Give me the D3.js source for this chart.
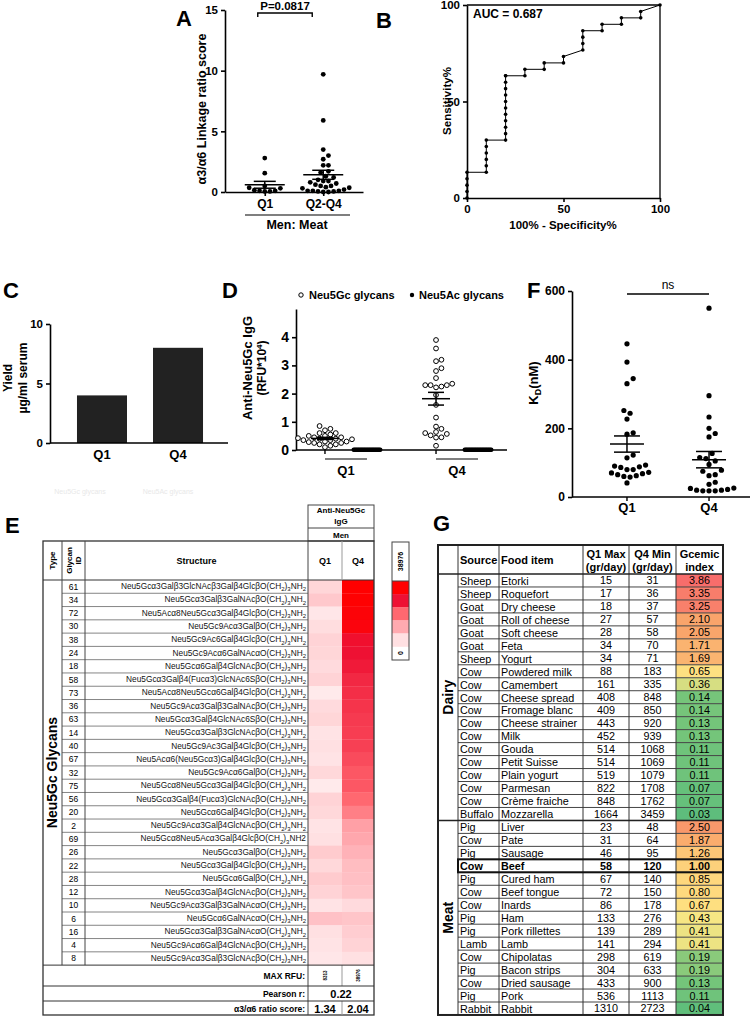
<!DOCTYPE html>
<html><head><meta charset="utf-8">
<script src="https://cdn.jsdelivr.net/npm/d3@7"></script>
<style>body{margin:0;background:#fff}svg{display:block}</style>
</head><body>
<svg id="c" width="754" height="1017"></svg>
<script>
// ---------------- DATA ----------------
// Panel A
const aCategories = ["Q1", "Q2-Q4"];
const aQ1 = [2.8, 1.55, 0.5, 0.35, 0.3, 0.15, 0.1, 0.1, 0.05, 0.05];
const aQ2Q4 = [9.7, 5.9, 3.5, 3.0, 2.7, 2.2, 2.2, 1.7, 1.6, 1.3, 1.2, 1.0, 0.9, 0.9, 0.8, 0.7, 0.6, 0.5, 0.5, 0.4, 0.35, 0.3, 0.2, 0.1, 0.1, 0.1, 0.05, 0.05, 0.0, 0.0];
const aTicks = [0, 5, 10, 15];
const aPText = "P=0.0817";
// Panel B (ROC)
const bFpr = [0,0,0,0,0,10,10,10,10,10,10,20,20,20,20,20,20,20,20,20,20,20,20,30,30,40,40,50,50,60,60,60,60,70,70,80,80,90,90,100];
const bSens = [0,3.33,6.67,10,13.33,13.33,16.67,20,23.33,26.67,30,30,33.33,36.67,40,43.33,46.67,50,53.33,56.67,60,63.33,63.33,63.33,66.67,66.67,70,70,73.33,76.67,80,83.33,86.67,86.67,90,90,93.33,93.33,96.67,100];
const bTicks = [0, 50, 100];
const bAUC = "AUC = 0.687";
// Panel C
const cCategories = ["Q1", "Q4"];
const cYield = [4, 8];
const cTicks = [0, 5, 10];
// Panel D
const dGroups = ["Q1", "Q4"];
const dGcQ1 = [0.85, 0.75, 0.7, 0.6, 0.6, 0.55, 0.5, 0.5, 0.45, 0.45, 0.42, 0.4, 0.4, 0.38, 0.35, 0.35, 0.3, 0.3, 0.28, 0.25, 0.25, 0.2, 0.2, 0.15, 0.1];
const dGcQ4 = [3.9, 3.6, 3.2, 3.15, 2.9, 2.8, 2.55, 2.35, 2.3, 2.3, 2.22, 2.25, 2.3, 1.95, 1.6, 1.15, 0.83, 0.75, 0.64, 0.6, 0.57, 0.52, 0.44, 0.45, 0.15];
const dAcQ1 = [0.01,0.01,0.01,0.01,0.01,0.01,0.01,0.01,0.01,0.01,0.01,0.01,0.01,0.01,0.01,0.01,0.01,0.01,0.01,0.01,0.01,0.01,0.01,0.01,0.01];
const dAcQ4 = [0.01,0.01,0.01,0.01,0.01,0.01,0.01,0.01,0.01,0.01,0.01,0.01,0.01,0.01,0.01,0.01,0.01,0.01,0.01,0.01,0.01,0.01,0.01,0.01,0.01];
const dTicks = [0, 1, 2, 3, 4];
const dLegend = ["Neu5Gc glycans", "Neu5Ac glycans"];
// Panel F
const fGroups = ["Q1", "Q4"];
const fQ1 = [446, 393, 345, 330, 252, 244, 227, 187, 183, 122, 114, 90, 88, 86, 80, 80, 93, 70, 72, 68, 65, 62, 60, 58, 41];
const fQ4 = [550, 295, 233, 200, 185, 175, 127, 115, 112, 105, 95, 78, 75, 65, 62, 43, 37, 26, 22, 20, 18, 18, 18, 20, 25];
const fTicks = [0, 200, 400, 600];
// Panel E
const eIds = [61, 34, 72, 30, 38, 24, 18, 58, 73, 36, 63, 14, 40, 67, 32, 75, 56, 20, 2, 69, 26, 22, 28, 12, 10, 6, 16, 4, 8];
const eStructures = [
  "Neu5Gcα3Galβ3GlcNAcβ3Galβ4GlcβO(CH_2)_3NH_2",
  "Neu5Gcα3Galβ3GalNAcβO(CH_2)_3NH_2",
  "Neu5Acα8Neu5Gcα3Galβ4GlcβO(CH_2)_3NH_2",
  "Neu5Gc9Acα3GalβO(CH_2)_3NH_2",
  "Neu5Gc9Ac6Galβ4GlcβO(CH_2)_3NH_2",
  "Neu5Gc9Acα6GalNAcαO(CH_2)_3NH_2",
  "Neu5Gcα6Galβ4GlcNAcβO(CH_2)_3NH_2",
  "Neu5Gcα3Galβ4(Fucα3)GlcNAc6SβO(CH_2)_3NH_2",
  "Neu5Acα8Neu5Gcα6Galβ4GlcβO(CH_2)_3NH_2",
  "Neu5Gc9Acα3Galβ3GalNAcβO(CH_2)_3NH_2",
  "Neu5Gcα3Galβ4GlcNAc6SβO(CH_2)_3NH_2",
  "Neu5Gcα3Galβ3GlcNAcβO(CH_2)_3NH_2",
  "Neu5Gc9Ac3Galβ4GlcβO(CH_2)_3NH_2",
  "Neu5Acα6(Neu5Gcα3)Galβ4GlcβO(CH_2)_3NH_2",
  "Neu5Gc9Acα6GalβO(CH_2)_3NH_2",
  "Neu5Gcα8Neu5Gcα3Galβ4GlcβO(CH_2)_3NH_2",
  "Neu5Gcα3Galβ4(Fucα3)GlcNAcβO(CH_2)_3NH_2",
  "Neu5Gcα6Galβ4GlcβO(CH_2)_3NH_2",
  "Neu5Gc9Acα3Galβ4GlcNAcβO(CH_2)_3NH_2",
  "Neu5Gcα8Neu5Acα3Galβ4GlcβO(CH_2)_3NH2",
  "Neu5Gcα3GalβO(CH_2)_3NH_2",
  "Neu5Gcα3Galβ4GlcβO(CH_2)_3NH_2",
  "Neu5Gcα6GalβO(CH_2)_3NH_2",
  "Neu5Gcα3Galβ4GlcNAcβO(CH_2)_3NH_2",
  "Neu5Gc9Acα3Galβ3GalNAcαO(CH_2)_3NH_2",
  "Neu5Gcα6GalNAcαO(CH_2)_3NH_2",
  "Neu5Gcα3Galβ3GalNAcαO(CH_2)_3NH_2",
  "Neu5Gc9Acα6Galβ4GlcNAcβO(CH_2)_3NH_2",
  "Neu5Gc9Acα3Galβ3GlcNAcβO(CH_2)_3NH_2"
];
const eQ1 = [5400, 7400, 3100, 4300, 5800, 5400, 4700, 5800, 2700, 4700, 5400, 3500, 3900, 3500, 5100, 2700, 5800, 5100, 3500, 3900, 7000, 5100, 7000, 5800, 3500, 8313, 3900, 3500, 3100];
const eQ4 = [38976, 38600, 37800, 37000, 32000, 31200, 30000, 28100, 27300, 26500, 25700, 25300, 24900, 23400, 21800, 21800, 19500, 16800, 12900, 12100, 10500, 9000, 8600, 7800, 4700, 7800, 6600, 5800, 3900];
const eColumns = ["Q1", "Q4"];
const eMaxRFU = ["8313", "38976"];
const ePearson = "0.22";
const eRatio = ["1.34", "2.04"];
const eLegendLevels = [1.0, 0.8, 0.5, 0.3, 0.1];
// Panel G
const gGroups = [{name: "Dairy", n: 19}, {name: "Meat", n: 15}];
const gSource = ["Sheep","Sheep","Goat","Goat","Goat","Goat","Sheep","Cow","Cow","Cow","Cow","Cow","Cow","Cow","Cow","Cow","Cow","Cow","Buffalo",
                 "Pig","Cow","Pig","Cow","Pig","Cow","Cow","Pig","Pig","Lamb","Cow","Pig","Cow","Pig","Rabbit"];
const gFood = ["Etorki","Roquefort","Dry cheese","Roll of cheese","Soft cheese","Feta","Yogurt","Powdered milk","Camembert","Cheese spread","Fromage blanc","Cheese strainer","Milk","Gouda","Petit Suisse","Plain yogurt","Parmesan","Crème fraiche","Mozzarella",
               "Liver","Pate","Sausage","Beef","Cured ham","Beef tongue","Inards","Ham","Pork rillettes","Lamb","Chipolatas","Bacon strips","Dried sausage","Pork","Rabbit"];
const gQ1Max = [15,17,18,27,28,34,34,88,161,408,409,443,452,514,514,519,822,848,1664,
                23,31,46,58,67,72,86,133,139,141,298,304,433,536,1310];
const gQ4Min = [31,36,37,57,58,70,71,183,335,848,850,920,939,1068,1069,1079,1708,1762,3459,
                48,64,95,120,140,150,178,276,289,294,619,633,900,1113,2723];
const gGcemic = ["3.86","3.35","3.25","2.10","2.05","1.71","1.69","0.65","0.36","0.14","0.14","0.13","0.13","0.11","0.11","0.11","0.07","0.07","0.03",
                 "2.50","1.87","1.26","1.00","0.85","0.80","0.67","0.43","0.41","0.41","0.19","0.19","0.13","0.11","0.04"];
const gHeaders = [["Source"],["Food item"],["Q1 Max","(gr/day)"],["Q4 Min","(gr/day)"],["Gcemic","index"]];
const gHighlight = "Beef";

// ---------------- HELPERS ----------------
const FONT = '"Liberation Sans", Arial, Helvetica, sans-serif';
const svg = d3.select("#c").style("font-family", FONT);

function text(g, x, y, s, o = {}) {
  const t = g.append("text")
    .attr("x", x).attr("y", y)
    .attr("font-size", o.size || 11)
    .attr("font-weight", o.weight || "bold")
    .attr("text-anchor", o.anchor || "middle")
    .attr("fill", o.fill || "#000")
    .text(s);
  if (o.rotate) t.attr("transform", `rotate(${o.rotate},${x},${y})`);
  if (o.dy) t.attr("dy", o.dy);
  return t;
}
function styleAxis(sel, size) {
  sel.select(".domain").attr("stroke", "#000").attr("stroke-width", 1.6);
  sel.selectAll(".tick line").attr("stroke", "#000").attr("stroke-width", 1.6);
  sel.selectAll(".tick text").attr("font-size", size || 11).attr("font-weight", "bold").attr("font-family", FONT).attr("fill", "#000");
}
function swarm(values, y, diam) {
  const idx = values.map((v, i) => i).sort((a, b) => values[a] - values[b]);
  const placed = [], out = new Array(values.length);
  for (const i of idx) {
    const py = y(values[i]);
    let k = 0, ox = 0;
    while (true) {
      ox = k === 0 ? 0 : (k % 2 ? 1 : -1) * Math.ceil(k / 2) * diam * 0.5;
      if (placed.every(p => (p.x - ox) ** 2 + (p.y - py) ** 2 >= diam * diam * 0.98)) break;
      k++;
    }
    placed.push({x: ox, y: py});
    out[i] = {dx: ox, y: py, v: values[i]};
  }
  return out;
}
function meanSem(g, cx, vals, y, wMean, wSem) {
  const m = d3.mean(vals), s = d3.deviation(vals) / Math.sqrt(vals.length);
  const ln = (x1, y1, x2, y2) => g.append("line").attr("x1", x1).attr("y1", y1).attr("x2", x2).attr("y2", y2).attr("stroke", "#000").attr("stroke-width", 1.5);
  ln(cx - wMean, y(m), cx + wMean, y(m));
  ln(cx - wSem, y(m + s), cx + wSem, y(m + s));
  ln(cx - wSem, y(m - s), cx + wSem, y(m - s));
  ln(cx, y(m + s), cx, y(m - s));
}
function subText(t, s, size) {
  const parts = s.split(/(_\d)/).filter(p => p);
  let sub = false;
  parts.forEach(p => {
    if (p[0] === "_") {
      t.append("tspan").attr("font-size", size * 0.72).attr("dy", sub ? 0 : size * 0.28).text(p[1]);
      sub = true;
    } else {
      const ts = t.append("tspan").text(p);
      if (sub) { ts.attr("dy", -size * 0.28); sub = false; }
    }
  });
}

// ---------------- PANEL LETTERS ----------------
const letters = [["A", 176, 26], ["B", 376, 28], ["C", 3, 298], ["D", 222, 298], ["F", 527, 298], ["E", 5, 533], ["G", 433, 531]];
letters.forEach(([l, x, y]) => text(svg, x, y, l, {size: 22, anchor: "start"}));

// ---------------- PANEL A ----------------
{
  const g = svg.append("g");
  const y = d3.scaleLinear().domain([0, 15]).range([192, 10]);
  const x = d3.scalePoint().domain(aCategories).range([225, 363]).padding(0.68);
  g.append("g").attr("transform", "translate(225,0)")
    .call(d3.axisLeft(y).tickValues(aTicks).tickFormat(d3.format("d")).tickSize(4).tickSizeOuter(0)).call(s => styleAxis(s, 11.5));
  g.append("g").attr("transform", "translate(0,192)")
    .call(d3.axisBottom(x).tickSize(4).tickSizeOuter(0)).call(s => styleAxis(s, 12));
  [aQ1, aQ2Q4].forEach((vals, gi) => {
    const cx = x(aCategories[gi]);
    swarm(vals, y, 5.2).forEach(p => g.append("circle").attr("cx", cx + p.dx).attr("cy", p.y).attr("r", 2.4).attr("fill", "#000"));
    meanSem(g, cx, vals, y, 20, 11);
  });
  text(g, 202, 109, "α3/α6 Linkage ratio score", {size: 12.5, rotate: -90, dy: "0.35em"});
  const x1 = x("Q1") - 7, x2 = x("Q2-Q4") - 11;
  g.append("path").attr("d", `M${x1},17V13H${x2}V17`).attr("fill", "none").attr("stroke", "#000").attr("stroke-width", 1.4);
  text(g, (x1 + x2) / 2, 10, aPText, {size: 11.5});
  g.append("line").attr("x1", 245).attr("x2", 350).attr("y1", 215).attr("y2", 215).attr("stroke", "#000").attr("stroke-width", 1.2);
  text(g, 297, 229, "Men: Meat", {size: 12.5});
}

// ---------------- PANEL B ----------------
{
  const g = svg.append("g");
  const x = d3.scaleLinear().domain([0, 100]).range([467, 660]);
  const y = d3.scaleLinear().domain([0, 100]).range([198, 5]);
  g.append("g").attr("transform", "translate(467,0)")
    .call(d3.axisLeft(y).tickValues(bTicks).tickSize(4).tickSizeOuter(0)).call(s => styleAxis(s, 11.5));
  g.append("g").attr("transform", "translate(0,198)")
    .call(d3.axisBottom(x).tickValues(bTicks).tickSize(4).tickSizeOuter(0)).call(s => styleAxis(s, 11.5));
  g.append("path").attr("d", `M${x(0)},${y(100)}H${x(100)}V${y(0)}`).attr("fill", "none").attr("stroke", "#000").attr("stroke-width", 1.3);
  const pts = bFpr.map((f, i) => [x(f), y(bSens[i])]);
  g.append("path").attr("d", d3.line()(pts)).attr("fill", "none").attr("stroke", "#000").attr("stroke-width", 1);
  pts.forEach(p => g.append("circle").attr("cx", p[0]).attr("cy", p[1]).attr("r", 1.8).attr("fill", "#000"));
  text(g, 473, 18, bAUC, {size: 12, anchor: "start"});
  text(g, 447, 101, "Sensitivity%", {size: 11.5, rotate: -90, dy: "0.35em"});
  text(g, 563, 229, "100% - Specificity%", {size: 11.5});
}

// ---------------- PANEL C ----------------
{
  const g = svg.append("g");
  const y = d3.scaleLinear().domain([0, 10]).range([443, 324]);
  const x = d3.scaleBand().domain(cCategories).range([50, 230]).paddingInner(0.342).paddingOuter(0.355);
  g.selectAll("rect").data(cYield).join("rect")
    .attr("x", (d, i) => x(cCategories[i])).attr("width", x.bandwidth())
    .attr("y", d => y(d)).attr("height", d => y(0) - y(d)).attr("fill", "#222");
  g.append("g").attr("transform", "translate(50,0)")
    .call(d3.axisLeft(y).tickValues(cTicks).tickFormat(d3.format("d")).tickSize(4).tickSizeOuter(0)).call(s => styleAxis(s, 11.5));
  g.append("line").attr("x1", 50).attr("x2", 228).attr("y1", 443).attr("y2", 443).attr("stroke", "#000").attr("stroke-width", 1.6);
  cCategories.forEach(c => text(g, x(c) + x.bandwidth() / 2, 459, c, {size: 13}));
  text(g, 8, 378, "Yield", {size: 12, rotate: -90, dy: "0.35em"});
  text(g, 23, 378, "µg/ml serum", {size: 12, rotate: -90, dy: "0.35em"});
  text(g, 80, 494, "Neu5Gc glycans", {size: 7, weight: "normal", fill: "#e8e8e8"});
  text(g, 168, 494, "Neu5Ac glycans", {size: 7, weight: "normal", fill: "#e8e8e8"});
}

// ---------------- PANEL D ----------------
{
  const g = svg.append("g");
  const y = d3.scaleLinear().domain([0, 5]).range([450, 309]);
  const x = d3.scalePoint().domain(dGroups).range([296, 507]).padding(0.45);
  const off = 21;
  g.append("g").attr("transform", "translate(296,0)")
    .call(d3.axisLeft(y).tickValues(dTicks).tickFormat(d3.format("d")).tickSize(4).tickSizeOuter(0)).call(s => styleAxis(s, 14));
  g.append("line").attr("x1", 296).attr("x2", 507).attr("y1", 450).attr("y2", 450).attr("stroke", "#000").attr("stroke-width", 1.6);
  const gc = [dGcQ1, dGcQ4], ac = [dAcQ1, dAcQ4];
  dGroups.forEach((grp, gi) => {
    const cx = x(grp);
    g.append("line").attr("x1", cx - off).attr("x2", cx - off).attr("y1", 450).attr("y2", 454).attr("stroke", "#000").attr("stroke-width", 1.4);
    swarm(gc[gi], y, 5.4).forEach(p => g.append("circle").attr("cx", cx - off + p.dx).attr("cy", p.y).attr("r", 2.4)
      .attr("fill", "#fff").attr("stroke", "#000").attr("stroke-width", 1));
    swarm(ac[gi], y, 1.1).forEach(p => g.append("circle").attr("cx", cx + off + p.dx).attr("cy", p.y).attr("r", 2.3).attr("fill", "#000"));
    meanSem(g, cx - off, gc[gi], y, 14, 8);
    g.append("line").attr("x1", cx - off).attr("x2", cx + off).attr("y1", 459).attr("y2", 459).attr("stroke", "#000").attr("stroke-width", 1.2);
    text(g, cx, 475, grp, {size: 13});
  });
  text(g, 247, 368, "Anti-Neu5Gc IgG", {size: 13, rotate: -90, dy: "0.35em"});
  const t = g.append("text").attr("x", 262).attr("y", 368).attr("font-size", 12).attr("font-weight", "bold")
    .attr("text-anchor", "middle").attr("dy", "0.35em").attr("transform", "rotate(-90,262,368)");
  t.append("tspan").text("(RFU*10");
  t.append("tspan").attr("font-size", 8).attr("dy", -4).text("4");
  t.append("tspan").attr("dy", 4).text(")");
  g.append("circle").attr("cx", 301).attr("cy", 295).attr("r", 2.2).attr("fill", "#fff").attr("stroke", "#000");
  text(g, 309, 299, dLegend[0], {size: 11, anchor: "start"});
  g.append("circle").attr("cx", 412).attr("cy", 295).attr("r", 2.2).attr("fill", "#000");
  text(g, 419, 299, dLegend[1], {size: 11, anchor: "start"});
}

// ---------------- PANEL F ----------------
{
  const g = svg.append("g");
  const y = d3.scaleLinear().domain([0, 600]).range([497, 291]);
  const x = d3.scalePoint().domain(fGroups).range([572, 764]).padding(0.67);
  g.append("g").attr("transform", "translate(572,0)")
    .call(d3.axisLeft(y).tickValues(fTicks).tickSize(4).tickSizeOuter(0)).call(s => styleAxis(s, 12));
  g.append("line").attr("x1", 572).attr("x2", 750).attr("y1", 497).attr("y2", 497).attr("stroke", "#000").attr("stroke-width", 1.6);
  [fQ1, fQ4].forEach((vals, gi) => {
    const cx = x(fGroups[gi]);
    g.append("line").attr("x1", cx).attr("x2", cx).attr("y1", 497).attr("y2", 501).attr("stroke", "#000").attr("stroke-width", 1.4);
    swarm(vals, y, 6.2).forEach(p => g.append("circle").attr("cx", cx + p.dx).attr("cy", p.y).attr("r", 2.6).attr("fill", "#000"));
    meanSem(g, cx, vals, y, 17, 13);
    text(g, cx, 512, fGroups[gi], {size: 13});
  });
  g.append("line").attr("x1", x("Q1")).attr("x2", x("Q4")).attr("y1", 294).attr("y2", 294).attr("stroke", "#000").attr("stroke-width", 1.3);
  text(g, (x("Q1") + x("Q4")) / 2, 289, "ns", {size: 12, weight: "normal"});
  const t = g.append("text").attr("x", 533).attr("y", 383).attr("font-size", 13).attr("font-weight", "bold")
    .attr("text-anchor", "middle").attr("dy", "0.35em").attr("transform", "rotate(-90,533,383)");
  t.append("tspan").text("K");
  t.append("tspan").attr("font-size", 9).attr("dy", 3).text("D");
  t.append("tspan").attr("dy", -3).text("(nM)");
}

// ---------------- PANEL E ----------------
{
  const g = svg.append("g");
  const X = [43, 62, 85, 308, 342, 374];
  const yHead = 541, yData = 580, rowH = 13.28;
  const yEnd = yData + eIds.length * rowH;
  const maxV = d3.max(eQ4.concat(eQ1));
  const color = d3.scaleLinear().domain([0, 0.1, 0.3, 0.5, 0.8, 1.0].map(f => f * maxV))
    .range(["#ffffff", "#ffe0e2", "#ffaab0", "#ff6870", "#ee1133", "#ff0000"]).clamp(true);
  const line = (x1, y1, x2, y2, w = 1, c = "#555") => g.append("line").attr("x1", x1).attr("y1", y1).attr("x2", x2).attr("y2", y2).attr("stroke", c).attr("stroke-width", w);
  [eQ1, eQ4].forEach((vals, ci) => {
    g.selectAll(null).data(vals).join("rect")
      .attr("x", X[3 + ci]).attr("width", X[4 + ci] - X[3 + ci])
      .attr("y", (d, i) => yData + i * rowH).attr("height", rowH + 0.3)
      .attr("fill", d => color(d));
  });
  eIds.forEach((id, i) => {
    const yy = yData + i * rowH;
    if (i > 0) line(X[1], yy, X[3], yy, 0.8, "#666");
    text(g, (X[1] + X[2]) / 2, yy + rowH / 2 + 3, id, {size: 8.5, weight: "normal"});
    const t = g.append("text").attr("x", X[3] - 2).attr("y", yy + rowH / 2 + 2.5).attr("font-size", 8.3)
      .attr("text-anchor", "end").attr("fill", "#111");
    subText(t, eStructures[i], 8.3);
  });
  g.append("rect").attr("x", X[3]).attr("y", 505).attr("width", X[5] - X[3]).attr("height", yHead - 505).attr("fill", "none").attr("stroke", "#444").attr("stroke-width", 1);
  line(X[3], 528, X[5], 528, 1, "#444");
  text(g, (X[3] + X[5]) / 2, 513, "Anti-Neu5Gc", {size: 8});
  text(g, (X[3] + X[5]) / 2, 524, "IgG", {size: 8});
  text(g, (X[3] + X[5]) / 2, 537.5, "Men", {size: 8});
  g.append("rect").attr("x", X[0]).attr("y", yHead).attr("width", X[5] - X[0]).attr("height", 1015 - yHead).attr("fill", "none").attr("stroke", "#333").attr("stroke-width", 1.3);
  line(X[0], yData, X[5], yData, 1, "#333");
  [1, 2].forEach(k => line(X[k], yHead, X[k], yEnd, 1, "#444"));
  line(X[3], yHead, X[3], 1015, 1, "#444");
  line(X[4], yHead, X[4], yData, 1, "#999");
  line(X[4], yEnd, X[4], 986, 1, "#999");
  line(X[4], 1001, X[4], 1015, 1, "#999");
  line(X[0], yEnd, X[5], yEnd, 1, "#333");
  line(X[0], 986, X[5], 986, 1, "#333");
  line(X[0], 1001, X[5], 1001, 1, "#333");
  text(g, (X[0] + X[1]) / 2, (yHead + yData) / 2, "Type", {size: 8, rotate: -90, dy: "0.35em"});
  text(g, (X[1] + X[2]) / 2 - 4, (yHead + yData) / 2, "Glycan", {size: 8, rotate: -90, dy: "0.35em"});
  text(g, (X[1] + X[2]) / 2 + 5, (yHead + yData) / 2, "ID", {size: 8, rotate: -90, dy: "0.35em"});
  text(g, (X[2] + X[3]) / 2, (yHead + yData) / 2 + 3, "Structure", {size: 9});
  eColumns.forEach((c, i) => text(g, (X[3 + i] + X[4 + i]) / 2, (yHead + yData) / 2 + 3, c, {size: 9}));
  text(g, (X[0] + X[1]) / 2, (yData + yEnd) / 2, "Neu5Gc Glycans", {size: 14, rotate: -90, dy: "0.35em"});
  text(g, X[3] - 3, 979, "MAX RFU:", {size: 8.5, anchor: "end"});
  eMaxRFU.forEach((v, i) => text(g, (X[3 + i] + X[4 + i]) / 2, 975.5, v, {size: 4.5, rotate: -90, dy: "0.35em"}));
  text(g, X[3] - 3, 997, "Pearson r:", {size: 8.5, anchor: "end"});
  text(g, (X[3] + X[5]) / 2, 998, ePearson, {size: 11});
  text(g, X[3] - 3, 1012, "α3/α6 ratio score:", {size: 8.5, anchor: "end"});
  eRatio.forEach((v, i) => text(g, (X[3 + i] + X[4 + i]) / 2, 1012.5, v, {size: 11}));
  const lx = 392, lw = 17, ly0 = 542, ly1 = 581, bh = 13.1;
  eLegendLevels.forEach((f, i) => g.append("rect").attr("x", lx).attr("y", ly1 + i * bh).attr("width", lw).attr("height", bh + 0.3).attr("fill", color(f * maxV)));
  g.append("rect").attr("x", lx).attr("y", ly0).attr("width", lw).attr("height", 660 - ly0).attr("fill", "none").attr("stroke", "#444").attr("stroke-width", 1);
  line(lx, ly1, lx + lw, ly1, 1, "#444");
  text(g, lx + lw / 2, (ly0 + ly1) / 2, String(maxV), {size: 7, rotate: -90, dy: "0.35em"});
  text(g, lx + lw / 2, 653, "0", {size: 7, rotate: -90, dy: "0.35em"});
}

// ---------------- PANEL G ----------------
{
  const g = svg.append("g");
  const X = [438, 458, 499, 583, 629, 676, 723];
  const yTop = 545, yData = 574, rowH = 12.97;
  const n = gFood.length;
  const yEnd = yData + n * rowH;
  const col = d3.scaleLinear().domain([0, 0.15, 0.4, 0.45, 1.0, 2.0, 4.0])
    .range(["#57bb7c", "#78c67a", "#e8e283", "#ffe884", "#fdd17b", "#f9a76b", "#f8696b"]);
  const line = (x1, y1, x2, y2, w = 1, c = "#333") => g.append("line").attr("x1", x1).attr("y1", y1).attr("x2", x2).attr("y2", y2).attr("stroke", c).attr("stroke-width", w);
  g.selectAll(null).data(gGcemic).join("rect")
    .attr("x", X[5]).attr("width", X[6] - X[5]).attr("y", (d, i) => yData + i * rowH).attr("height", rowH)
    .attr("fill", d => col(+d));
  for (let i = 0; i < n; i++) {
    const yy = yData + i * rowH, b = gFood[i] === gHighlight;
    const o = {size: 10.8, weight: b ? "bold" : "normal"};
    if (i > 0) line(X[1], yy, X[6], yy, 1, "#444");
    text(g, X[1] + 2, yy + rowH - 2.2, gSource[i], {...o, anchor: "start"});
    text(g, X[2] + 2, yy + rowH - 2.2, gFood[i], {...o, anchor: "start"});
    text(g, (X[3] + X[4]) / 2, yy + rowH - 2.5, gQ1Max[i], o);
    text(g, (X[4] + X[5]) / 2, yy + rowH - 2.5, gQ4Min[i], o);
    text(g, (X[5] + X[6]) / 2, yy + rowH - 2.5, gGcemic[i], o);
  }
  [1, 2, 3, 4, 5].forEach(k => line(X[k], yTop, X[k], yEnd, 1, "#333"));
  line(X[0], yData, X[6], yData, 1.6, "#222");
  g.append("rect").attr("x", X[0]).attr("y", yTop).attr("width", X[6] - X[0]).attr("height", yEnd - yTop).attr("fill", "none").attr("stroke", "#222").attr("stroke-width", 2);
  let acc = 0;
  gGroups.forEach((grp, gi) => {
    const y0 = yData + acc * rowH, y1 = yData + (acc + grp.n) * rowH;
    if (gi > 0) line(X[0], y0, X[6], y0, 1.6, "#222");
    text(g, (X[0] + X[1]) / 2, (y0 + y1) / 2, grp.name, {size: 14, rotate: -90, dy: "0.35em"});
    acc += grp.n;
  });
  const hi = gFood.indexOf(gHighlight);
  g.append("rect").attr("x", X[1]).attr("y", yData + hi * rowH).attr("width", X[6] - X[1]).attr("height", rowH)
    .attr("fill", "none").attr("stroke", "#111").attr("stroke-width", 2);
  gHeaders.forEach((h, i) => {
    if (h.length === 1) text(g, X[1 + i] + 2, 564, h[0], {size: 11, anchor: "start"});
    else { text(g, (X[1 + i] + X[2 + i]) / 2, 558, h[0], {size: 11}); text(g, (X[1 + i] + X[2 + i]) / 2, 571, h[1], {size: 11}); }
  });
}
</script>
</body></html>
